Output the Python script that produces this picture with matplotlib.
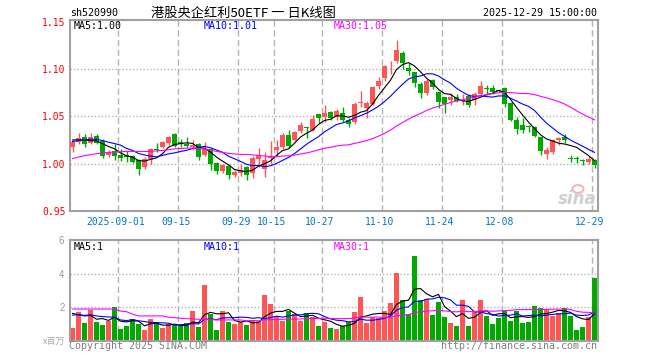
import numpy as np
import pandas as pd
import matplotlib
matplotlib.use('Agg')
import matplotlib.pyplot as plt
from matplotlib.patches import Ellipse

# trading days on the chart: Aug 20 .. Dec 29, National Day break removed
days = pd.bdate_range('2025-08-20', '2025-12-29')
days = days[(days < '2025-10-01') | (days > '2025-10-08')]

tick_dates = ['2025-09-01', '2025-09-15', '2025-09-29', '2025-10-15', '2025-10-27',
              '2025-11-10', '2025-11-24', '2025-12-08', '2025-12-29']
tick_labels = ['2025-09-01', '09-15', '09-29', '10-15', '10-27',
               '11-10', '11-24', '12-08', '12-29']

opens = [1.018, 1.0233, 1.0285, 1.0215, 1.029, 1.0243, 1.009, 1.0128, 1.0094, 1.0094,
         1.0076, 1.0035, 0.9962, 1.0049, 1.0153, 1.018, 1.0222, 1.0313, 1.0226, 1.0205,
         1.0174, 1.0208, 1.0094, 1.0153, 1.0007, 0.992, 0.9979, 0.9875, 0.9903, 0.9958,
         0.9896, 1.0045, 0.9941, 1.0063, 1.0139, 1.0174, 1.0306, 1.0253, 1.034, 1.0378,
         1.0358, 1.052, 1.0497, 1.0542, 1.0497, 1.0531, 1.0462, 1.0437, 1.0642, 1.059,
         1.0635, 1.0819, 1.0903, 1.105, 1.1087, 1.1174, 1.1017, 1.0965, 1.0847, 1.0743,
         1.0882, 1.076, 1.0701, 1.0674, 1.0708, 1.066, 1.0719, 1.0674, 1.0736, 1.0792,
         1.0799, 1.0778, 1.0799, 1.0639, 1.0465, 1.0406, 1.0392, 1.0382, 1.0278, 1.0104,
         1.0118, 1.025, 1.0285, 1.0049, 1.005, 1.0033, 1.0014, 1.0042]
closes = [1.0226, 1.0267, 1.0205, 1.0278, 1.022, 1.0083, 1.0118, 1.0083, 1.0059, 1.0066,
          1.0014, 0.9938, 1.0049, 1.0153, 1.0146, 1.0233, 1.0285, 1.0188, 1.0205, 1.0188,
          1.0198, 1.0069, 1.0153, 1.000, 0.992, 0.9983, 0.9875, 0.991, 0.9927, 0.988,
          1.0056, 1.009, 1.0035, 1.008, 1.0174, 1.0306, 1.0184, 1.033, 1.041, 1.0375,
          1.0472, 1.0486, 1.0538, 1.048, 1.0556, 1.0462, 1.0417, 1.0635, 1.0649, 1.0642,
          1.0809, 1.0878, 1.1035, 1.1052, 1.1208, 1.107, 1.0983, 1.0855, 1.0743, 1.0875,
          1.0806, 1.0649, 1.0632, 1.0701, 1.066, 1.0674, 1.0625, 1.0736, 1.0823, 1.0788,
          1.0753, 1.0771, 1.0632, 1.0458, 1.0361, 1.0354, 1.0389, 1.0292, 1.0128, 1.0139,
          1.025, 1.0267, 1.025, 1.0048, 1.0045, 1.0031, 1.0049, 0.998]
highs = [1.0235, 1.032, 1.031, 1.032, 1.031, 1.0257, 1.0146, 1.0205, 1.0153, 1.0128,
         1.0094, 1.0049, 1.0069, 1.0163, 1.0215, 1.0243, 1.0292, 1.0326, 1.0257, 1.0278,
         1.025, 1.0222, 1.0233, 1.0163, 1.0014, 1.000, 1.000, 0.993, 0.999, 0.9976,
         1.008, 1.016, 1.0125, 1.0236, 1.0253, 1.0323, 1.0358, 1.0347, 1.0437, 1.0382,
         1.0514, 1.053, 1.0618, 1.0556, 1.0583, 1.06, 1.0486, 1.0653, 1.0764, 1.066,
         1.0826, 1.0913, 1.1042, 1.1087, 1.1306, 1.1191, 1.1063, 1.0972, 1.0868, 1.0892,
         1.0892, 1.0771, 1.0708, 1.0743, 1.0736, 1.0736, 1.0736, 1.0753, 1.0875, 1.0833,
         1.0833, 1.0785, 1.0806, 1.0649, 1.0493, 1.0486, 1.0406, 1.0396, 1.0285, 1.0174,
         1.0257, 1.0278, 1.0313, 1.0094, 1.0083, 1.0049, 1.0076, 1.0049]
lows = [1.012, 1.021, 1.018, 1.0205, 1.0205, 1.0056, 1.007, 1.004, 1.0024, 1.0017,
        1.0007, 0.988, 0.9938, 0.9997, 1.0118, 1.0163, 1.0198, 1.0174, 1.018, 1.0174,
        1.0146, 1.0035, 1.0076, 0.993, 0.9885, 0.9896, 0.984, 0.986, 0.987, 0.983,
        0.9847, 0.9958, 0.986, 1.000, 1.008, 1.015, 1.0167, 1.0236, 1.0323, 1.027,
        1.034, 1.0427, 1.0437, 1.0462, 1.0462, 1.0437, 1.0382, 1.0417, 1.06, 1.048,
        1.0618, 1.0792, 1.0878, 1.0948, 1.107, 1.1, 1.0938, 1.081, 1.0694, 1.0726,
        1.0788, 1.059, 1.0535, 1.0625, 1.0649, 1.0615, 1.0604, 1.0625, 1.0719, 1.0729,
        1.0736, 1.0764, 1.0597, 1.0451, 1.0313, 1.0326, 1.0337, 1.0285, 1.0094, 1.0049,
        1.0104, 1.0198, 1.0222, 1.0014, 1.0007, 0.998, 1.0, 0.9955]
# volume, millions
volume = [0.75, 1.70, 1.05, 1.86, 1.11, 0.93, 1.17, 2.00, 0.69, 0.87,
          1.33, 0.99, 0.63, 1.29, 1.05, 0.75, 0.99, 0.93, 0.87, 1.05,
          1.76, 0.81, 3.31, 1.58, 0.63, 1.76, 1.11, 0.99, 1.15, 0.95,
          1.19, 1.19, 2.73, 2.20, 1.49, 1.19, 1.78, 1.60, 1.19, 1.66,
          1.43, 0.89, 1.13, 0.77, 0.71, 0.89, 1.13, 1.74, 2.61, 1.07,
          1.41, 1.35, 1.78, 2.26, 4.04, 2.44, 1.60, 5.05, 2.44, 2.50,
          1.54, 2.32, 1.43, 1.07, 0.89, 2.44, 0.89, 1.78, 2.44, 1.49,
          1.01, 1.37, 1.84, 1.19, 1.78, 1.07, 1.13, 2.08, 1.96, 1.90,
          1.49, 1.66, 1.96, 1.49, 0.65, 0.83, 1.43, 3.74]

# moving averages for the first bars need history before Aug 20
ma5_head = [1.025, 1.025, 1.025, 1.0243]
ma10_head = [1.0233, 1.0243, 1.0253, 1.0257, 1.0257, 1.0243, 1.0226, 1.0212, 1.0195]
ma30_head = [1.0052, 1.0069, 1.0083, 1.0094, 1.0104, 1.0111, 1.0118, 1.0122, 1.0125, 1.0128,
             1.0128, 1.0128, 1.0128, 1.0128, 1.0135, 1.0139, 1.0146, 1.0156, 1.016, 1.0163,
             1.0163, 1.016, 1.0153, 1.0142, 1.0128, 1.0118, 1.0108, 1.0101, 1.0097]
vma5_head = [1.64, 1.56, 1.49, 1.52]
vma10_head = [1.54, 1.56, 1.52, 1.56, 1.49, 1.45, 1.43, 1.41, 1.25]
vma30_head = [1.90, 1.90, 1.90, 1.90, 1.90, 1.90, 1.90, 1.90, 1.78, 1.74,
              1.60, 1.49, 1.49, 1.49, 1.49, 1.49, 1.41, 1.39, 1.35, 1.33,
              1.31, 1.29, 1.29, 1.27, 1.25, 1.25, 1.25, 1.25, 1.25]


def moving_avg(values, n, head):
    out = pd.Series(values).rolling(n).mean().to_numpy()
    out[:n - 1] = head
    return out


o = np.array(opens)
c = np.array(closes)
h = np.array(highs)
l = np.array(lows)
v = np.array(volume)
x = np.arange(len(days))
up = c >= o
RED, GREEN = '#ff5555', '#00a800'
cols = np.where(up, RED, GREEN)

MONO = 'DejaVu Sans Mono'
CJK = ['Noto Sans CJK SC', 'DejaVu Sans']
GRID = '#b4b4b4'
FRAME = '#a0a0a0'

fig = plt.figure(figsize=(6.6, 3.6), dpi=100)
W, H = 660, 360
ax = fig.add_axes([70 / W, 1 - 211 / H, 528 / W, 191 / H])
axv = fig.add_axes([70 / W, 1 - 341 / H, 528 / W, 101 / H])

tick_idx = [days.get_loc(pd.Timestamp(d)) for d in tick_dates]

for a in (ax, axv):
    a.set_xlim(-0.42, 87.58)
    for t in tick_idx:
        a.axvline(t - 0.4, color=GRID, lw=1, dashes=(4.5, 2.5), zorder=0)
    for s in a.spines.values():
        s.set_color(FRAME)
        s.set_linewidth(1.5)
    a.tick_params(length=0)

# price panel
ax.set_ylim(0.9497, 1.1521)
for yv in (1.00, 1.05, 1.10):
    ax.axhline(yv, color=GRID, lw=1, dashes=(1, 1.5), zorder=0)
body = np.maximum(np.abs(c - o), 0.0009)
ax.vlines(x, l, h, colors=cols, lw=1, zorder=2)
ax.bar(x, body, bottom=np.minimum(o, c), width=0.83, color=cols, lw=0, zorder=3)
ax.plot(x, moving_avg(c, 5, ma5_head), color='black', lw=0.8, zorder=4)
ax.plot(x, moving_avg(c, 10, ma10_head), color='#0000ff', lw=0.8, zorder=4)
ax.plot(x, moving_avg(c, 30, ma30_head), color='#ff00ff', lw=0.8, zorder=4)

ax.set_yticks([0.95, 1.00, 1.05, 1.10, 1.15])
ax.set_yticklabels(['0.95', '1.00', '1.05', '1.10', '1.15'], family=MONO,
                   fontsize=7, color='#ff0000')
ax.tick_params(axis='y', pad=3)
ax.set_xticks([t - 0.75 for t in tick_idx])
ax.set_xticklabels(tick_labels, family=MONO, fontsize=7, color='#0078c8')
ax.tick_params(axis='x', pad=4)

# volume panel
axv.set_ylim(0, 6)
for yv in (2, 4):
    axv.axhline(yv, color=GRID, lw=1, dashes=(1, 1.5), zorder=0)
axv.bar(x, v, width=0.83, color=cols, lw=0, zorder=2)
axv.plot(x, moving_avg(v, 5, vma5_head), color='black', lw=0.8, zorder=4)
axv.plot(x, moving_avg(v, 10, vma10_head), color='#0000ff', lw=0.8, zorder=4)
axv.plot(x, moving_avg(v, 30, vma30_head), color='#ff00ff', lw=0.8, zorder=4)
axv.set_yticks([2, 4, 6])
axv.set_yticklabels(['2', '4', '6'], family='Liberation Sans', fontsize=7, color='#999999')
axv.tick_params(axis='y', pad=4)
axv.set_xticks([])


def ftext(px, py, s, **kw):
    fig.text(px / W, 1 - py / H, s, va='center', **kw)


ftext(70, 13, 'sh520990', family=MONO, fontsize=7.2, color='black')
ftext(243, 13, '港股央企红利50ETF 一 日K线图', family=CJK, fontsize=9.5,
      color='black', ha='center')
ftext(597, 13, '2025-12-29 15:00:00', family=MONO, fontsize=7.2, color='black', ha='right')

ftext(74, 26, 'MA5:1.00', family=MONO, fontsize=7.2, color='black')
ftext(204, 26, 'MA10:1.01', family=MONO, fontsize=7.2, color='#0000ff')
ftext(334, 26, 'MA30:1.05', family=MONO, fontsize=7.2, color='#ff00ff')

ftext(74, 247, 'MA5:1', family=MONO, fontsize=7.2, color='black')
ftext(204, 247, 'MA10:1', family=MONO, fontsize=7.2, color='#0000ff')
ftext(334, 247, 'MA30:1', family=MONO, fontsize=7.2, color='#ff00ff')

ftext(65, 341, 'x百万', family=CJK, fontsize=6.5, color='#aaaaaa', ha='right')
ftext(69, 346, 'Copyright 2025 SINA.COM', family=MONO, fontsize=7.2, color='#808080')
ftext(597, 346, 'http://finance.sina.com.cn', family=MONO, fontsize=7.2,
      color='#808080', ha='right')

# sina watermark
ftext(597, 199, 'sina', family='DejaVu Sans', fontsize=12, fontweight='bold',
      style='italic', color='#cfcfcf', ha='right')
fig.add_artist(Ellipse((578 / W, 1 - 189 / H), 11 / W, 8 / H, facecolor='none',
                       edgecolor='#f2b8b8', lw=1.5))

fig.savefig('out.png', dpi=100)
